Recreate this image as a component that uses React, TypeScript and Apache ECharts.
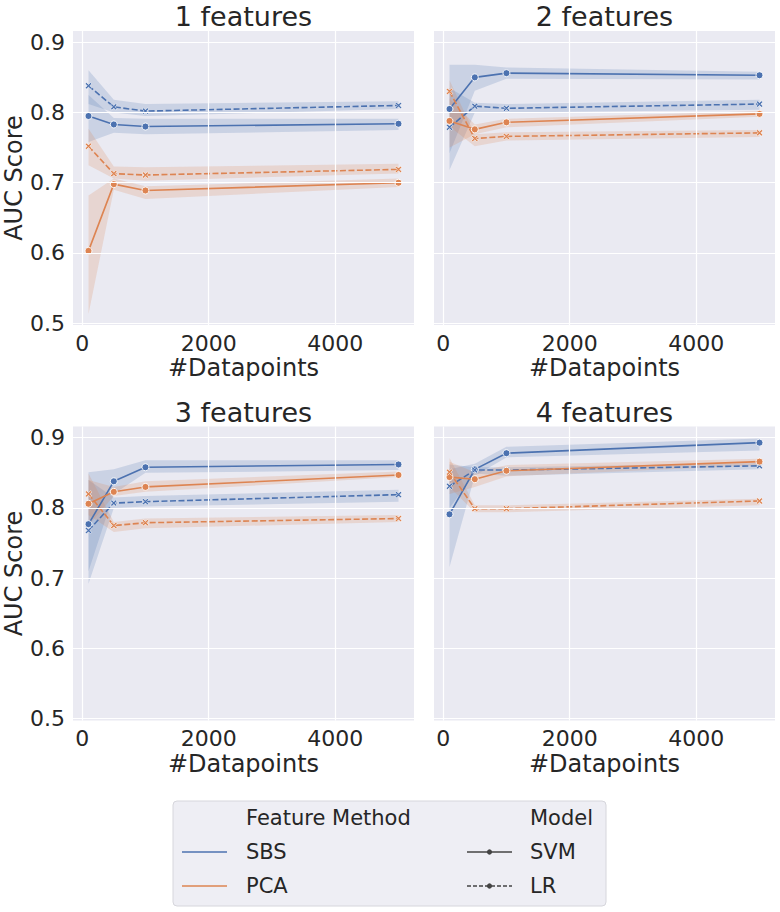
import React, { useEffect, useRef } from "react";
import * as echarts from "echarts";

// ---------- data ----------
const xPoints = [100, 500, 1000, 5000];
const panelTitles = ["1 features", "2 features", "3 features", "4 features"];
const xTicks = [0, 2000, 4000];
const yTicks = [0.5, 0.6, 0.7, 0.8, 0.9];

// rows = panels (1..4 features), columns = xPoints
const sbsSvmMean = [
  [0.795, 0.783, 0.78, 0.784],
  [0.805, 0.85, 0.856, 0.853],
  [0.777, 0.838, 0.858, 0.862],
  [0.791, 0.855, 0.878, 0.893],
];
const sbsSvmLow = [
  [0.758, 0.771, 0.769, 0.775],
  [0.742, 0.831, 0.848, 0.847],
  [0.71, 0.82, 0.85, 0.854],
  [0.716, 0.846, 0.872, 0.882],
];
const sbsSvmHigh = [
  [0.825, 0.792, 0.791, 0.791],
  [0.868, 0.868, 0.864, 0.858],
  [0.851, 0.855, 0.868, 0.868],
  [0.855, 0.863, 0.887, 0.899],
];

const sbsLrMean = [
  [0.838, 0.808, 0.802, 0.81],
  [0.779, 0.809, 0.806, 0.812],
  [0.768, 0.807, 0.809, 0.819],
  [0.831, 0.854, 0.854, 0.86],
];
const sbsLrLow = [
  [0.812, 0.8, 0.795, 0.805],
  [0.718, 0.8, 0.8, 0.804],
  [0.692, 0.8, 0.802, 0.809],
  [0.8, 0.849, 0.846, 0.855],
];
const sbsLrHigh = [
  [0.86, 0.818, 0.812, 0.816],
  [0.835, 0.814, 0.812, 0.818],
  [0.84, 0.815, 0.817, 0.826],
  [0.862, 0.858, 0.858, 0.864],
];

const pcaSvmMean = [
  [0.603, 0.698, 0.689, 0.7],
  [0.788, 0.776, 0.786, 0.798],
  [0.806, 0.823, 0.83, 0.847],
  [0.844, 0.841, 0.853, 0.866],
];
const pcaSvmLow = [
  [0.513, 0.69, 0.677, 0.694],
  [0.75, 0.769, 0.779, 0.794],
  [0.775, 0.817, 0.823, 0.844],
  [0.82, 0.83, 0.845, 0.861],
];
const pcaSvmHigh = [
  [0.682, 0.706, 0.695, 0.706],
  [0.82, 0.783, 0.791, 0.802],
  [0.84, 0.83, 0.838, 0.852],
  [0.866, 0.851, 0.861, 0.87],
];

const pcaLrMean = [
  [0.752, 0.713, 0.711, 0.719],
  [0.83, 0.763, 0.766, 0.771],
  [0.82, 0.775, 0.779, 0.785],
  [0.851, 0.799, 0.799, 0.81],
];
const pcaLrLow = [
  [0.725, 0.706, 0.703, 0.713],
  [0.78, 0.752, 0.76, 0.765],
  [0.79, 0.766, 0.771, 0.78],
  [0.83, 0.794, 0.794, 0.804],
];
const pcaLrHigh = [
  [0.777, 0.723, 0.722, 0.727],
  [0.846, 0.769, 0.772, 0.775],
  [0.849, 0.78, 0.785, 0.79],
  [0.871, 0.804, 0.804, 0.813],
];

// ---------- style ----------
const BLUE = "#4c72b0";
const ORANGE = "#dd8452";
const TEXT = "#262626";
const FONT = "DejaVu Sans";
const X_SYMBOL =
  "path://M0,2L2,0L5,3L8,0L10,2L7,5L10,8L8,10L5,7L2,10L0,8L3,5Z";

const groups = [
  { key: "sbsSvm", color: BLUE, dashed: false, mean: sbsSvmMean, lo: sbsSvmLow, hi: sbsSvmHigh },
  { key: "sbsLr", color: BLUE, dashed: true, mean: sbsLrMean, lo: sbsLrLow, hi: sbsLrHigh },
  { key: "pcaSvm", color: ORANGE, dashed: false, mean: pcaSvmMean, lo: pcaSvmLow, hi: pcaSvmHigh },
  { key: "pcaLr", color: ORANGE, dashed: true, mean: pcaLrMean, lo: pcaLrLow, hi: pcaLrHigh },
];

const gridPos = [
  { left: 73, top: 31 },
  { left: 434, top: 31 },
  { left: 73, top: 426.5 },
  { left: 434, top: 426.5 },
];
const GW = 341;
const GH = 294;

function hexToRgba(hex: string, a: number) {
  const n = parseInt(hex.slice(1), 16);
  return `rgba(${(n >> 16) & 255},${(n >> 8) & 255},${n & 255},${a})`;
}

function buildOption() {
  const grid = gridPos.map((g) => ({
    left: g.left,
    top: g.top,
    width: GW,
    height: GH,
    show: true,
    backgroundColor: "#eaeaf2",
    borderWidth: 0,
  }));

  const xAxis = gridPos.map((_, i) => ({
    type: "value",
    gridIndex: i,
    min: -145,
    max: 5245,
    axisLine: { show: false },
    axisTick: { show: false },
    splitLine: { show: false },
    axisLabel: {
      customValues: xTicks,
      formatter: (v: number) => String(v),
      fontSize: 22,
      color: TEXT,
      fontFamily: FONT,
      margin: 7,
    },
    name: "#Datapoints",
    nameLocation: "middle",
    nameGap: 31,
    nameTextStyle: { fontSize: 24, color: TEXT, fontFamily: FONT },
  }));

  const yAxis = gridPos.map((_, i) => ({
    type: "value",
    gridIndex: i,
    min: 0.4975,
    max: 0.916,
    axisLine: { show: false },
    axisTick: { show: false },
    splitLine: { show: false },
    axisLabel: {
      show: i % 2 === 0,
      customValues: yTicks,
      formatter: (v: number) => v.toFixed(1),
      fontSize: 22,
      color: TEXT,
      fontFamily: FONT,
      margin: 8,
    },
    name: i % 2 === 0 ? "AUC Score" : "",
    nameLocation: "middle",
    nameGap: 38,
    nameTextStyle: { fontSize: 24, color: TEXT, fontFamily: FONT },
  }));

  const series: any[] = [];
  gridPos.forEach((_, p) => {
    // gridlines
    series.push({
      type: "line",
      xAxisIndex: p,
      yAxisIndex: p,
      data: [[xPoints[0], yTicks[0]]],
      showSymbol: false,
      symbol: "none",
      lineStyle: { opacity: 0 },
      silent: true,
      z: 1,
      markLine: {
        silent: true,
        symbol: "none",
        label: { show: false },
        lineStyle: { color: "#ffffff", width: 1.2, type: "solid" },
        data: [
          ...xTicks.map((v) => ({ xAxis: v })),
          ...yTicks.map((v) => ({ yAxis: v })),
        ],
      },
    });
    // confidence bands
    groups.forEach((g) => {
      const fill = hexToRgba(g.color, 0.2);
      const n = xPoints.length;
      series.push({
        type: "custom",
        xAxisIndex: p,
        yAxisIndex: p,
        silent: true,
        z: 2,
        data: xPoints.map((x, j) => [x, g.lo[p][j], g.hi[p][j]]),
        encode: { x: 0, y: [1, 2] },
        renderItem: (params: any, api: any) => {
          if (params.dataIndexInside !== 0) return { type: "group", children: [] };
          const upper: number[][] = [];
          const lower: number[][] = [];
          for (let k = 0; k < n; k++) {
            upper.push(api.coord([api.value(0, k), api.value(2, k)]));
            lower.push(api.coord([api.value(0, k), api.value(1, k)]));
          }
          return {
            type: "polygon",
            shape: { points: upper.concat(lower.reverse()) },
            style: { fill, stroke: "none" },
          };
        },
      });
    });
    // mean lines
    groups.forEach((g) => {
      series.push({
        type: "line",
        xAxisIndex: p,
        yAxisIndex: p,
        data: xPoints.map((x, j) => [x, g.mean[p][j]]),
        symbol: g.dashed ? X_SYMBOL : "circle",
        symbolSize: g.dashed ? 6.5 : 7,
        showSymbol: true,
        itemStyle: {
          color: g.color,
          borderColor: "#ffffff",
          borderWidth: g.dashed ? 0.6 : 0.9,
        },
        lineStyle: {
          color: g.color,
          width: 1.6,
          type: g.dashed ? [6, 2.5] : "solid",
        },
        z: 3,
      });
    });
  });

  const graphic: any[] = [];
  panelTitles.forEach((t, i) => {
    const g = gridPos[i];
    graphic.push({
      type: "text",
      x: g.left + GW / 2,
      y: g.top - 14.5,
      style: {
        text: t,
        fontSize: 27,
        fontFamily: FONT,
        fill: TEXT,
        align: "center",
        verticalAlign: "middle",
      },
    });
  });

  // legend box
  graphic.push({
    type: "rect",
    shape: { x: 173, y: 801, width: 433, height: 105, r: 4 },
    style: { fill: "#eeeef4", stroke: "#d6d6dc", lineWidth: 1 },
  });
  const legendText = (text: string, x: number, y: number) => ({
    type: "text",
    x,
    y,
    style: {
      text,
      fontSize: 21,
      fontFamily: FONT,
      fill: TEXT,
      align: "left",
      verticalAlign: "middle",
    },
  });
  graphic.push(legendText("Feature Method", 246, 818));
  graphic.push(legendText("SBS", 246, 852));
  graphic.push(legendText("PCA", 246, 886));
  graphic.push(legendText("Model", 530, 818));
  graphic.push(legendText("SVM", 530, 852));
  graphic.push(legendText("LR", 530, 886));
  graphic.push({
    type: "line",
    shape: { x1: 182, y1: 852, x2: 227, y2: 852 },
    style: { stroke: BLUE, lineWidth: 1.6 },
  });
  graphic.push({
    type: "line",
    shape: { x1: 182, y1: 886, x2: 227, y2: 886 },
    style: { stroke: ORANGE, lineWidth: 1.6 },
  });
  graphic.push({
    type: "line",
    shape: { x1: 467, y1: 852, x2: 512, y2: 852 },
    style: { stroke: "#444444", lineWidth: 1.6 },
  });
  graphic.push({
    type: "circle",
    shape: { cx: 489.5, cy: 852, r: 2.6 },
    style: { fill: "#444444" },
  });
  graphic.push({
    type: "line",
    shape: { x1: 467, y1: 886, x2: 512, y2: 886 },
    style: { stroke: "#444444", lineWidth: 1.6, lineDash: [4, 2] },
  });
  graphic.push({
    type: "circle",
    shape: { cx: 489.5, cy: 886, r: 2.6 },
    style: { fill: "#444444" },
  });

  return {
    animation: false,
    backgroundColor: "#ffffff",
    textStyle: { fontFamily: FONT },
    grid,
    xAxis,
    yAxis,
    series,
    graphic,
  };
}

export default function App() {
  const ref = useRef<HTMLDivElement>(null);
  useEffect(() => {
    document.body.style.margin = "0";
    if (!ref.current) return;
    const chart = echarts.init(ref.current, null, { renderer: "svg" });
    chart.setOption(buildOption() as any);
    return () => chart.dispose();
  }, []);
  return <div ref={ref} style={{ width: 780, height: 912 }} />;
}
